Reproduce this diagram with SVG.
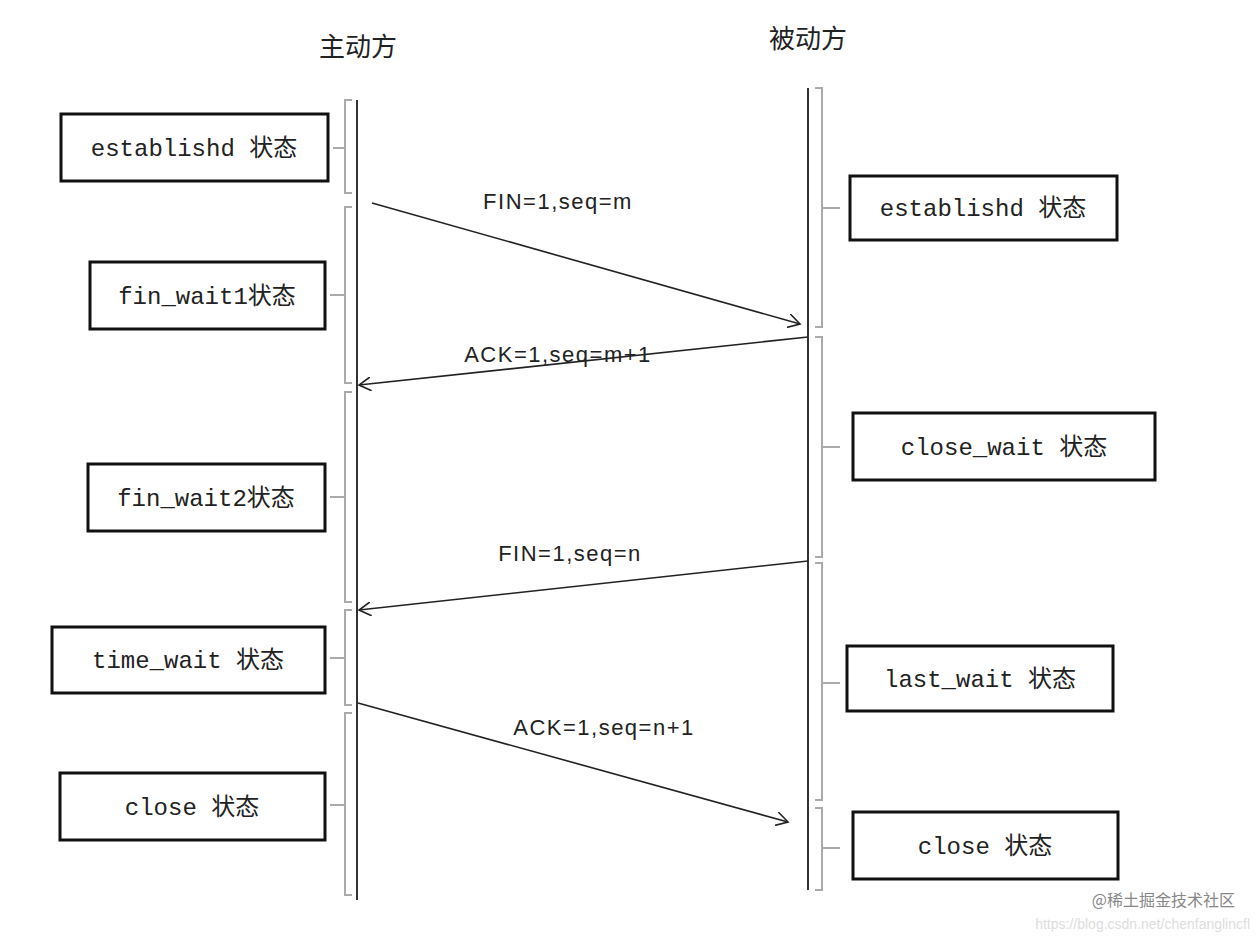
<svg xmlns="http://www.w3.org/2000/svg" width="1260" height="938" viewBox="0 0 1260 938">
<style>
.box{fill:#fff;stroke:#111;stroke-width:3}
.t{font-family:"Liberation Mono","Noto Sans CJK SC",monospace;font-size:24px;fill:#222;text-anchor:middle}
.lab{font-family:"Liberation Sans","Noto Sans CJK SC",sans-serif;font-size:22px;letter-spacing:1.5px;fill:#222;text-anchor:middle}
.h{font-family:"Noto Sans CJK SC",sans-serif;font-size:26px;fill:#222;text-anchor:middle}
.life{stroke:#333;stroke-width:2}
.br{fill:none;stroke:#aaa;stroke-width:2}
.arr{stroke:#222;stroke-width:1.6;fill:none;marker-end:url(#a)}
</style>
<defs><marker id="a" markerWidth="14" markerHeight="14" refX="12" refY="7" orient="auto" markerUnits="userSpaceOnUse"><path d="M0,0 L12,7 L0,14" fill="none" stroke="#222" stroke-width="1.6"/></marker></defs>
<rect width="1260" height="938" fill="#fff"/>
<text class="h" x="358" y="56">主动方</text>
<text class="h" x="808" y="48">被动方</text>
<g id="lifelines">
<line class="life" x1="357" y1="100" x2="357" y2="900"/>
<line class="life" x1="808" y1="88" x2="808" y2="890"/>
</g>
<g id="brackets">
<path class="br" d="M352,100 H345 V193 H352 M345,148 H333"/>
<path class="br" d="M352,207 H345 V383 H352 M345,295 H330"/>
<path class="br" d="M352,392 H345 V602 H352 M345,497 H330"/>
<path class="br" d="M352,610 H345 V705 H352 M345,658 H330"/>
<path class="br" d="M352,713 H345 V895 H352 M345,805 H330"/>
<path class="br" d="M815,88 H822 V327 H815 M822,208 H840"/>
<path class="br" d="M815,337 H822 V557 H815 M822,447 H840"/>
<path class="br" d="M815,563 H822 V800 H815 M822,683 H840"/>
<path class="br" d="M815,808 H822 V890 H815 M822,848 H840"/>
</g>
<g id="n1"><rect class="box" x="61" y="114" width="267" height="67"/><text class="t" x="194" y="156">establishd 状态</text></g>
<g id="n2"><rect class="box" x="90" y="262" width="235" height="67"/><text class="t" x="207" y="304">fin_wait1状态</text></g>
<g id="n3"><rect class="box" x="88" y="464" width="237" height="67"/><text class="t" x="206" y="506">fin_wait2状态</text></g>
<g id="n4"><rect class="box" x="52" y="627" width="273" height="66"/><text class="t" x="188" y="668">time_wait 状态</text></g>
<g id="n5"><rect class="box" x="60" y="773" width="265" height="67"/><text class="t" x="192" y="815">close 状态</text></g>
<g id="n6"><rect class="box" x="850" y="176" width="267" height="64"/><text class="t" x="983" y="216">establishd 状态</text></g>
<g id="n7"><rect class="box" x="853" y="413" width="302" height="67"/><text class="t" x="1004" y="455">close_wait 状态</text></g>
<g id="n8"><rect class="box" x="847" y="646" width="266" height="65"/><text class="t" x="980" y="687">last_wait 状态</text></g>
<g id="n9"><rect class="box" x="853" y="812" width="265" height="67"/><text class="t" x="985" y="854">close 状态</text></g>
<g id="connectors">
<line class="arr" x1="372" y1="203" x2="800" y2="324"/>
<line class="arr" x1="808" y1="337" x2="359" y2="385"/>
<line class="arr" x1="808" y1="561" x2="359" y2="610"/>
<line class="arr" x1="358" y1="703" x2="788" y2="822"/>
<text class="lab" x="558" y="209">FIN=1,seq=m</text>
<text class="lab" x="558" y="362">ACK=1,seq=m+1</text>
<text class="lab" x="570" y="561">FIN=1,seq=n</text>
<text class="lab" x="604" y="735">ACK=1,seq=n+1</text>
</g>
<text x="1235" y="906" font-family="Noto Sans CJK SC,sans-serif" font-size="16" fill="#888" text-anchor="end">@稀土掘金技术社区</text>
<text x="1250" y="929" font-family="Liberation Sans,sans-serif" font-size="14" fill="#ddd" text-anchor="end">https://blog.csdn.net/chenfanglincfl</text>
</svg>
